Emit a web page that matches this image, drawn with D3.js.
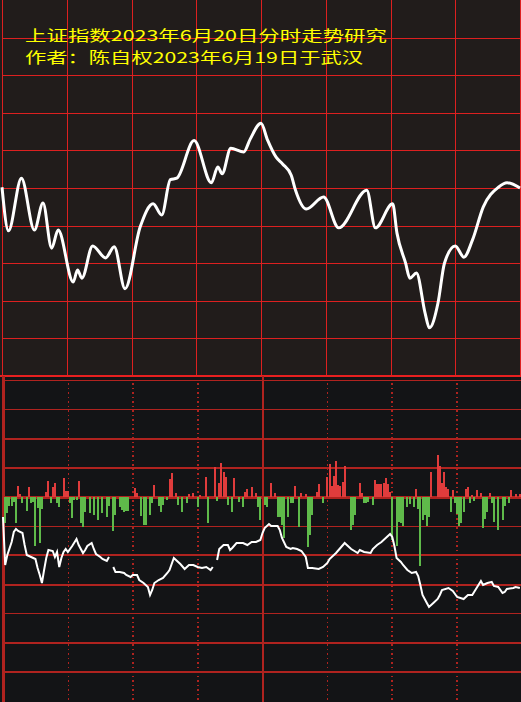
<!DOCTYPE html>
<html>
<head>
<meta charset="utf-8">
<script src="https://cdn.jsdelivr.net/npm/d3@7"></script>
<style>
html, body { margin: 0; padding: 0; background: #131416; }
svg { display: block; }
</style>
</head>
<body>
<div id="chart"></div>
<script>
"use strict"

const WIDTH = 521;
const HEIGHT = 702;
const TOP_H = 376;

// trading minutes from 9:30, one grid column per half hour
const minuteTicks = [0, 30, 60, 90, 120, 150, 180, 210, 240];
const titleLines = ["上证指数2023年6月20日分时走势研究", "作者：陈自权2023年6月19日于武汉"];

// index price (top panel)
const priceT = [0, 3, 9, 15, 19, 23, 26, 33, 35, 37, 42, 48, 52, 57, 64, 70, 74, 78, 81, 89, 97, 100, 102, 106, 112, 115, 120,
  123, 127, 130, 134, 136, 141, 149, 156, 169, 173, 181, 183, 187, 189, 192, 196, 198, 202, 205, 210, 214, 218, 223, 230, 234, 240];
const priceV = [3245.1, 3239.3, 3246.3, 3239.4, 3243.0, 3237.0, 3239.4, 3232.5, 3234.1, 3233.0, 3237.3, 3235.7, 3237.2, 3231.6,
  3239.8, 3242.9, 3241.4, 3246.1, 3246.3, 3251.3, 3245.7, 3247.8, 3246.9, 3250.3, 3249.8, 3251.5, 3253.6,
  3251.4, 3249.1, 3248.2, 3246.7, 3244.7, 3242.2, 3243.8, 3239.7, 3244.7, 3239.7, 3242.9, 3239.0, 3235.0, 3233.0,
  3233.7, 3228.4, 3226.4, 3229.7, 3235.0, 3237.3, 3235.8, 3238.1, 3242.5, 3245.1, 3245.7, 3245.0];

// buy/sell difference bars (lower panel)
const barT = [1, 2, 3, 4, 5, 6, 7, 8, 9, 11, 12, 13, 14, 15, 16, 17, 18, 20, 21, 22, 23, 24, 25, 26, 28, 29, 30, 31, 32, 33, 34, 35,
  36, 37, 38, 40, 42, 44, 46, 48, 49, 51, 52, 54, 55, 56, 57, 58, 61, 62, 64, 65, 66, 68, 69, 70, 72, 73, 74, 76, 77, 78, 80,
  81, 83, 85, 86, 88, 90, 91, 94, 95, 98, 99, 100, 101, 102, 103, 104, 106, 107, 109, 111, 112, 113, 115, 117, 118, 119,
  121, 122, 124, 126, 127, 128, 129, 130, 132, 133, 134, 135, 137, 138, 140, 141, 142, 143, 145, 146, 148, 150, 151, 152,
  153, 154, 155, 156, 157, 158, 161, 162, 163, 165, 166, 167, 168, 169, 171, 172, 173, 174, 175, 176, 177, 178, 179, 180,
  182, 183, 184, 185, 187, 188, 190, 191, 192, 193, 194, 195, 196, 197, 198, 201, 202, 203, 204, 205, 206, 207, 208, 209,
  210, 211, 212, 213, 214, 215, 216, 217, 218, 219, 221, 222, 223, 224, 225, 226, 227, 229, 231, 232, 234, 235, 237, 239];
const barV = [-130, -80, -45, -45, -25, -130, 55, 15, -30, -70, 50, -30, -25, -245, -55, -230, -60, 25, 80, -30, 50, 70, -30, -50,
  95, 30, 30, -30, -105, -15, -15, 80, -130, -150, -75, -80, -90, -115, -80, -100, -45, -170, -90, -50, -65, -75, -70, -70,
  45, 20, -95, -140, -140, -90, -30, 60, -45, -75, -40, -15, 90, 120, 20, -40, -75, -30, 15, 20, -50, 10, 100, -130,
  150, -20, 70, 170, 125, 100, -40, -75, 95, -25, -50, 25, 40, 50, 20, -50, -115, -40, -50, 70, 20, -100, -100, -140,
  -205, -100, -30, -30, 55, -150, 20, 15, -250, -190, -90, 25, 65, -30, 100, 165, 55, 105, 180, 60, 55, 75, 155,
  -165, -140, -90, 70, 20, -30, -30, -25, -40, 85, 65, 65, 65, 70, 95, 65, 25, -215, -245, -125, -130, -145, -50,
  -35, -50, 40, -60, -345, -115, -90, -145, -100, 125, 210, 155, 70, 125, 50, 40, -75, 35, -30, -85, -145, -130,
  -75, 40, 50, -30, 10, -20, 35, 20, -155, -110, -75, 20, -30, -125, -165, -115, -45, -30, 35, 15, 15];

// indicator line (lower panel), null = break
const lineT = [0, 1, 2, 4, 5, 6, 7, 9, 10, 11, 12, 13, 15, 16, 17, 18, 19, 20, 21, 23, 24, 25, 26, 27, 28, 29, 30, 32, 34, 35,
  37, 38, 39, 41, 42, 43, 45, 46, 48, 49, 50, 51, 52, 54, 56, 57, 59, 60, 62, 63, 65, 67, 68, 69, 70, 72, 74, 76, 77, 79,
  80, 82, 84, 85, 86, 88, 90, 92, 94, 96, 97, 98, 99, 100, 102, 104, 105, 106, 108, 111, 113, 115, 117, 119, 120, 121, 123,
  124, 127, 128, 129, 131, 133, 134, 136, 138, 140, 141, 143, 146, 148, 150, 151, 154, 156, 158, 160, 161, 164, 165, 167,
  170, 171, 173, 175, 178, 179, 180, 181, 182, 184, 185, 187, 189, 191, 192, 193, 194, 196, 197, 199, 201, 202, 203, 206,
  208, 210, 213, 215, 217, 219, 221, 222, 224, 226, 227, 229, 231, 232, 233, 236, 237, 239];
const lineV = [19.5, -4.5, 0.5, 7, 12, 13.5, 12.5, 11.5, 5.5, 0.5, 0, -0.5, -1.5, -6, -9.5, -13.5, -7, -1, 3, 2.5, -0.5, 2, -5.5,
  -1, 2, 3.5, 2, 5, 8.5, 5.5, 1.5, 3, 5, 6.5, 3.5, 1, -0.5, -1.5, -2.5, -0.5, null, -5.5, -8, -8, -8.5, -9.5, -10.5, -9.5,
  -9.5, -12, -13.5, -15.5, -19.5, -17, -13.5, -12, -11, -8.5, -7, -1, -2, -4, -6.5, -5.5, -4.5, -4.5, -5.5, -6, -5.5, -7,
  -5.5, null, -2, 3.5, 5.5, 5.5, 3, 4, 6.5, 6.5, 5.5, 7, 7, 8, 11.5, 14, 16, 15, 15, 13, 9, 4.5, 3.5, 4, 3.5, 2.5, -0.5,
  -6, -6, -6.5, -5.5, -3.5, -1.5, 1.5, 4, 6.5, 4.5, 3.5, 1.5, 3, 2, 1.5, 3.5, 5.5, 7, 10, 11, 9.5, 5, -1, -3, -4.5, -7,
  -8.5, -8, -10, -14.5, -19.5, -23.5, -25.5, -23.5, -21.5, -19.5, -17, -16, -17.5, -20.5, -21.5, -19.5, -19.5, -16,
  -12.5, -14.5, -13.5, -13, -15, -15.5, -18.5, -18, -16.5, -16, -15.5, -16];

// lower panel grid rows (bar units) and their stroke widths
const rowLevels = [584, 438, 292, 146, 0, -146, -292, -438, -584, -730, -876];
const rowWidths = [1, 1, 2, 2, 3, 1, 2, 2, 1, 2, 2];
const colWidths = [1, 2, 2, 2.5, 1, 2, 2];

const svg = d3.select('#chart')
  .append('svg')
  .attr('width', WIDTH)
  .attr('height', HEIGHT);

svg.append('rect')
  .attr('width', WIDTH)
  .attr('height', HEIGHT)
  .attr('fill', '#131416');

// ---- top panel ----
const xTop = d3.scaleLinear().domain([0, 240]).range([2, 520]);
const yTop = d3.scaleLinear().domain([3220, 3270]).range([TOP_H, 0]);

svg.append('rect')
  .attr('width', WIDTH)
  .attr('height', TOP_H)
  .attr('fill', '#211c1b');

const topGrid = svg.append('g').attr('stroke', '#dd2020').attr('shape-rendering', 'crispEdges');
topGrid.selectAll('.hline')
  .data(yTop.ticks(10).filter(d => d > 3220 && d < 3270))
  .enter()
    .append('line')
    .attr('class', 'hline')
    .attr('x1', xTop(0))
    .attr('x2', xTop(240))
    .attr('y1', d => Math.round(yTop(d)) + 0.5)
    .attr('y2', d => Math.round(yTop(d)) + 0.5)
    .attr('stroke-width', 1);
topGrid.selectAll('.vline')
  .data(minuteTicks)
  .enter()
    .append('line')
    .attr('class', 'vline')
    .attr('x1', d => Math.round(xTop(d)) + 0.5)
    .attr('x2', d => Math.round(xTop(d)) + 0.5)
    .attr('y1', 0)
    .attr('y2', TOP_H)
    .attr('stroke-width', 1);
topGrid.append('line')
  .attr('x1', 0).attr('x2', WIDTH)
  .attr('y1', yTop(3220)).attr('y2', yTop(3220))
  .attr('stroke', '#e82020')
  .attr('stroke-width', 2);

const priceData = priceT.map((t, i) => ({t: t, v: priceV[i]}));
svg.append('path')
  .datum(priceData)
  .attr('fill', 'none')
  .attr('stroke', '#ffffff')
  .attr('stroke-width', 3)
  .attr('stroke-linejoin', 'round')
  .attr('d', d3.line()
    .x(d => xTop(d.t))
    .y(d => yTop(d.v))
    .curve(d3.curveMonotoneX));

svg.selectAll('.title')
  .data(titleLines)
  .enter()
    .append('text')
    .attr('class', 'title')
    .attr('x', 25)
    .attr('y', (d, i) => 41 + i * 22)
    .attr('textLength', (d, i) => i == 0 ? 362 : 338)
    .attr('lengthAdjust', 'spacingAndGlyphs')
    .attr('fill', '#ffff00')
    .style('font-family', '"Noto Sans CJK SC", sans-serif')
    .style('font-size', '15px')
    .text(d => d);

// ---- lower panel ----
const xBot = d3.scaleLinear().domain([0, 240]).range([3, 522]);
const yBar = d3.scaleLinear().domain([-730, 730]).range([497 + 146, 497 - 146]);
const yLine = d3.scaleLinear().domain([0, 10]).range([556, 536]);

const botGrid = svg.append('g').attr('stroke', '#b0231f').attr('shape-rendering', 'crispEdges');
botGrid.selectAll('.col')
  .data(minuteTicks.slice(1, 8))
  .enter()
    .append('line')
    .attr('class', 'col')
    .attr('x1', d => Math.round(xBot(d)))
    .attr('x2', d => Math.round(xBot(d)))
    .attr('y1', d => d == 120 ? TOP_H : 383)
    .attr('y2', HEIGHT)
    .attr('stroke-width', (d, i) => colWidths[i])
    .attr('stroke-dasharray', d => d == 120 ? null : '2,3,1,3');
botGrid.append('line')
  .attr('x1', 3).attr('x2', 3)
  .attr('y1', TOP_H).attr('y2', HEIGHT)
  .attr('stroke-width', 3);

const bars = barT.map((t, i) => ({t: t, v: barV[i]}));
svg.append('g')
  .selectAll('rect')
  .data(bars)
  .enter()
    .append('rect')
    .attr('x', d => xBot(d.t) - 1)
    .attr('width', 2)
    .attr('y', d => yBar(Math.max(0, d.v)))
    .attr('height', d => Math.abs(yBar(d.v) - yBar(0)))
    .attr('fill', d => d.v > 0 ? '#e03c3c' : '#5fba4a')
    .attr('shape-rendering', 'crispEdges');

botGrid.selectAll('.row')
  .data(rowLevels)
  .enter()
    .append('line')
    .attr('class', 'row')
    .attr('x1', 3)
    .attr('x2', WIDTH)
    .attr('y1', d => yBar(d))
    .attr('y2', d => yBar(d))
    .attr('stroke-width', (d, i) => rowWidths[i]);

const lineData = lineT.map((t, i) => ({t: t, v: lineV[i]}));
svg.append('path')
  .datum(lineData)
  .attr('fill', 'none')
  .attr('stroke', '#ffffff')
  .attr('stroke-width', 2)
  .attr('d', d3.line()
    .defined(d => d.v !== null)
    .x(d => xBot(d.t))
    .y(d => yLine(d.v)));
</script>
</body>
</html>
